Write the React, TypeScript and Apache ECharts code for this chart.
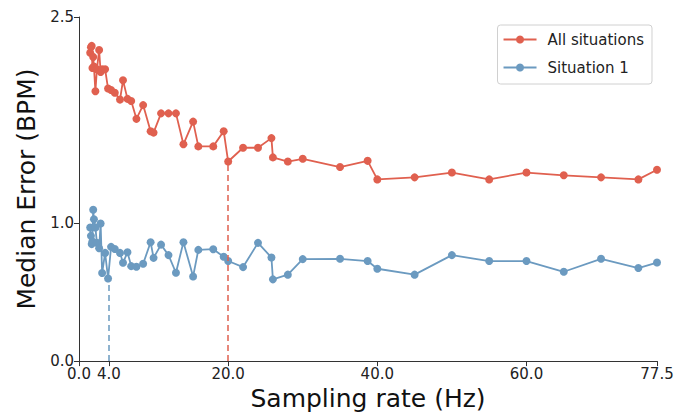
import React, { useEffect, useRef } from "react";
import * as echarts from "echarts";

const rates = [1.5, 1.6, 1.7, 1.8, 1.9, 2.0, 2.2, 2.4, 2.7, 2.9, 3.1, 3.5, 3.9, 4.3, 4.8, 5.5, 5.9, 6.5, 7.0, 7.7, 8.6, 9.6, 10, 11, 12, 13, 14, 15.3, 16, 18, 19.4, 20, 22, 24, 25.8, 26, 28, 30, 35, 38.7, 40, 45, 50, 55, 60, 65, 70, 75, 77.5];

const allSituations = [2.24, 2.28, 2.29, 2.13, 2.21, 2.14, 1.96, 2.12, 2.26, 2.10, 2.12, 2.12, 1.98, 1.97, 1.95, 1.90, 2.04, 1.905, 1.89, 1.76, 1.86, 1.67, 1.66, 1.80, 1.80, 1.80, 1.575, 1.74, 1.56, 1.56, 1.67, 1.45, 1.55, 1.55, 1.62, 1.48, 1.45, 1.47, 1.41, 1.455, 1.32, 1.335, 1.37, 1.32, 1.37, 1.35, 1.335, 1.32, 1.39];

const situation1 = [0.97, 0.91, 0.85, 0.87, 1.10, 1.03, 0.97, 0.86, 0.82, 1.00, 0.64, 0.786, 0.60, 0.83, 0.815, 0.786, 0.714, 0.791, 0.69, 0.685, 0.707, 0.864, 0.75, 0.846, 0.77, 0.642, 0.864, 0.615, 0.808, 0.813, 0.758, 0.727, 0.683, 0.859, 0.753, 0.594, 0.628, 0.741, 0.743, 0.727, 0.671, 0.628, 0.77, 0.727, 0.727, 0.649, 0.743, 0.676, 0.716];

const xTicks = [0, 4, 20, 40, 60, 77.5];
const yTicks = [0, 1, 2.5];

// threshold markers: [rate, error]
const redThreshold = [20, 1.45];
const blueThreshold = [4, 0.6];

const RED = "#E0604F";
const BLUE = "#6B9AC0";
const FONT = "DejaVu Sans";

export default function App() {
  const ref = useRef<HTMLDivElement>(null);
  useEffect(() => {
    if (!ref.current) return;
    const chart = echarts.init(ref.current, undefined, { renderer: "svg" });
    const mk = (t: number[], color: string) => ({
      silent: true,
      symbol: ["none", "none"],
      label: { show: false },
      lineStyle: { color, type: [6, 4], width: 1.5 },
      data: [[{ coord: [t[0], 0] }, { coord: [t[0], t[1]] }]],
    });
    chart.setOption({
      animation: false,
      textStyle: { fontFamily: FONT },
      grid: { left: 79, right: 42, top: 17, bottom: 50, containLabel: false },
      legend: {
        orient: "vertical",
        right: 47,
        top: 25,
        itemWidth: 33,
        itemHeight: 10,
        itemGap: 13,
        padding: [7, 8, 9, 5],
        borderColor: "#d0d0d0",
        borderWidth: 1,
        borderRadius: 3,
        textStyle: { fontFamily: FONT, fontSize: 15, color: "#222", padding: [0, 0, 0, 6] },
        data: ["All situations", "Situation 1"],
      },
      xAxis: {
        type: "value",
        min: 0,
        max: 77.5,
        name: "Sampling rate (Hz)",
        nameLocation: "middle",
        nameGap: 21,
        nameTextStyle: { fontFamily: FONT, fontSize: 25, color: "#111" },
        axisLine: { show: true, lineStyle: { color: "#333", width: 1 } },
        axisTick: { show: true, length: 5, customValues: xTicks, lineStyle: { color: "#333" } },
        axisLabel: {
          customValues: xTicks,
          formatter: (v: number) => v.toFixed(1),
          fontFamily: FONT,
          fontSize: 15,
          color: "#222",
          margin: 5,
        },
        splitLine: { show: false },
      },
      yAxis: {
        type: "value",
        min: 0,
        max: 2.5,
        name: "Median Error (BPM)",
        nameLocation: "middle",
        nameGap: 36,
        nameTextStyle: { fontFamily: FONT, fontSize: 25, color: "#111" },
        axisLine: { show: true, lineStyle: { color: "#333", width: 1 } },
        axisTick: { show: true, length: 5, customValues: yTicks, lineStyle: { color: "#333" } },
        axisLabel: {
          customValues: yTicks,
          formatter: (v: number) => v.toFixed(1),
          fontFamily: FONT,
          fontSize: 15,
          color: "#222",
          margin: 5,
        },
        splitLine: { show: false },
      },
      series: [
        {
          name: "All situations",
          type: "line",
          data: rates.map((r, i) => [r, allSituations[i]]),
          symbol: "circle",
          symbolSize: 8,
          itemStyle: { color: RED },
          lineStyle: { color: RED, width: 1.8 },
          markLine: mk(redThreshold, RED),
        },
        {
          name: "Situation 1",
          type: "line",
          data: rates.map((r, i) => [r, situation1[i]]),
          symbol: "circle",
          symbolSize: 8,
          itemStyle: { color: BLUE },
          lineStyle: { color: BLUE, width: 1.8 },
          markLine: mk(blueThreshold, BLUE),
        },
      ],
    });
    return () => chart.dispose();
  }, []);
  return <div ref={ref} style={{ width: 699, height: 416, position: "absolute", left: 0, top: 0 }} />;
}
